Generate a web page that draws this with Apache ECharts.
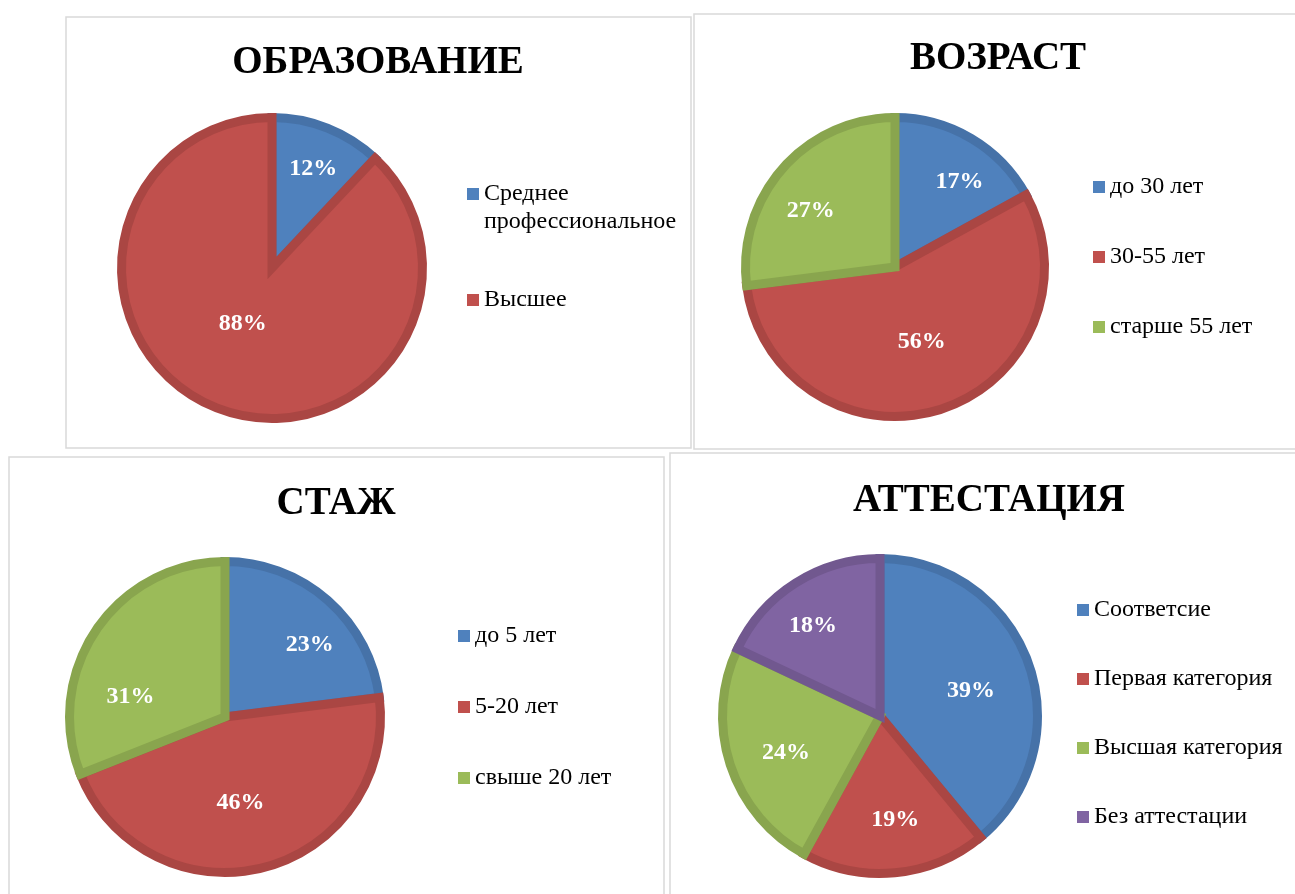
<!DOCTYPE html>
<html>
<head>
<meta charset="utf-8">
<title>Кадровый состав</title>
<script src="https://cdn.jsdelivr.net/npm/echarts@6/dist/echarts.min.js"></script>
<style>
  html, body { margin: 0; padding: 0; background: #fff; }
  #chart { width: 1295px; height: 894px; }
</style>
</head>
<body>
<div id="chart"></div>
<script>
// данные
var eduNames = ['Среднее\nпрофессиональное', 'Высшее'];
var eduValues = [12, 88];
var ageNames = ['до 30 лет', '30-55 лет', 'старше 55 лет'];
var ageValues = [17, 56, 27];
var expNames = ['до 5 лет', '5-20 лет', 'свыше 20 лет'];
var expValues = [23, 46, 31];
var attNames = ['Соответсие', 'Первая категория', 'Высшая категория', 'Без аттестации'];
var attValues = [39, 19, 24, 18];
var titles = ['ОБРАЗОВАНИЕ', 'ВОЗРАСТ', 'СТАЖ', 'АТТЕСТАЦИЯ'];

var fills = ['#4F81BD', '#C0504D', '#9BBB59', '#8064A2'];
var edges = ['#4672A8', '#AA4643', '#89A54E', '#71588F'];
var serif = '"Liberation Serif", "Times New Roman", serif';

// раскладка панелей (labelShift - сдвиг подписей как в Excel "по ширине")
var panels = [
  { box: [66, 17, 625, 431], center: [272, 268], r: 155, titleX: 378, titleY: 43,
    legendX: 467, legendY: 152, legendGap: 50, lineH: 28, names: eduNames, values: eduValues,
    labelShift: [[3, -3], [9, -41]] },
  { box: [694, 14, 620, 435], center: [895, 267], r: 154, titleX: 998, titleY: 39,
    legendX: 1093, legendY: 175, legendGap: 46, lineH: 24, names: ageNames, values: ageValues,
    labelShift: [[12, 4], [-5, -23], [-7, 12]] },
  { box: [9, 457, 655, 460], center: [225, 717], r: 160, titleX: 336, titleY: 484,
    legendX: 458, legendY: 624, legendGap: 47, lineH: 24, names: expNames, values: expValues,
    labelShift: [[14, 8], [-11, -18], [-6, 40]] },
  { box: [670, 453, 640, 460], center: [880, 716], r: 162, titleX: 989, titleY: 481,
    legendX: 1077, legendY: 598, legendGap: 45, lineH: 24, names: attNames, values: attValues,
    labelShift: [[-11, 11], [5, -4], [9, 3], [-9, 1]] }
];

var chart = echarts.init(document.getElementById('chart'));

var title = [], legend = [], series = [], graphic = [];

panels.forEach(function (p, k) {
  graphic.push({
    type: 'rect',
    shape: { x: p.box[0], y: p.box[1], width: p.box[2], height: p.box[3] },
    style: { fill: 'none', stroke: '#D9D9D9', lineWidth: 1.5 },
    silent: true
  });

  title.push({
    text: titles[k],
    left: p.titleX,
    top: p.titleY,
    textAlign: 'center',
    padding: 0,
    textStyle: { fontFamily: serif, fontSize: 39, fontWeight: 'bold', color: '#000' }
  });

  legend.push({
    orient: 'vertical',
    left: p.legendX,
    top: p.legendY,
    padding: 0,
    itemGap: p.legendGap,
    itemWidth: 12,
    itemHeight: 12,
    icon: 'rect',
    itemStyle: { borderWidth: 0 },
    selectedMode: false,
    textStyle: { fontFamily: serif, fontSize: 24, color: '#000', lineHeight: p.lineH },
    // двухстрочная подпись: пустая строка сверху, чтобы значок стоял у первой строки
    formatter: function (name) {
      return name.indexOf('\n') >= 0 ? '\n' + name : name;
    },
    data: p.names
  });

  var items = p.names.map(function (n, i) {
    return {
      name: n,
      value: p.values[i],
      itemStyle: { color: fills[i], borderColor: edges[i] }
    };
  });

  series.push({
    type: 'pie',
    center: p.center,
    radius: [0, p.r - 4.5],
    startAngle: 90,
    clockwise: true,
    animation: false,
    silent: true,
    itemStyle: { borderWidth: 9, borderJoin: 'miter' },
    label: { show: false },
    labelLine: { show: false },
    data: items
  });

  // подписи процентов (прозрачный слой)
  series.push({
    type: 'pie',
    center: p.center,
    radius: [0, p.r * 1.3],
    startAngle: 90,
    clockwise: true,
    animation: false,
    silent: true,
    legendHoverLink: false,
    itemStyle: { color: 'transparent', borderWidth: 0 },
    label: {
      show: true,
      position: 'inside',
      formatter: '{c}%',
      fontFamily: serif,
      fontSize: 24,
      fontWeight: 'bold',
      color: '#fff'
    },
    labelLine: { show: false },
    data: p.names.map(function (n, i) {
      return { name: n, value: p.values[i], label: { offset: p.labelShift[i] } };
    })
  });
});

chart.setOption({
  backgroundColor: '#fff',
  animation: false,
  title: title,
  legend: legend,
  graphic: graphic,
  series: series
});
</script>
</body>
</html>
